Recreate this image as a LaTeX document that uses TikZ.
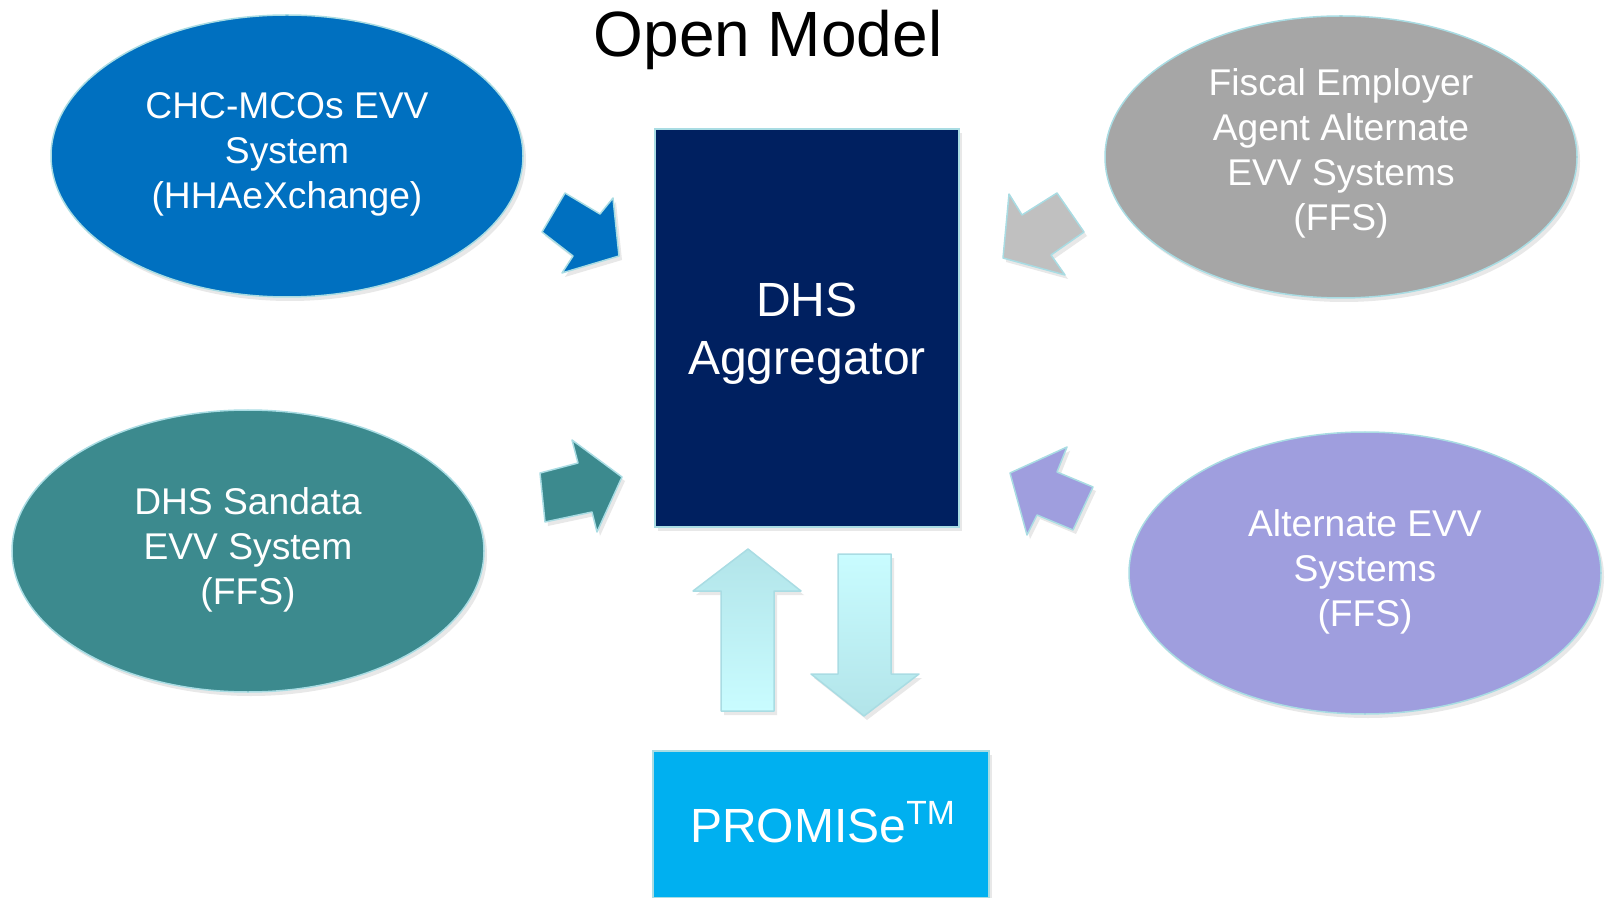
\documentclass[tikz,border=0pt]{standalone}
\usepackage{fontspec}
\setmainfont{Liberation Sans}
\usepackage{xcolor}
\usetikzlibrary{shapes.geometric,shadows}

\definecolor{chcblue}{HTML}{0070C0}
\definecolor{feagray}{HTML}{A6A6A6}
\definecolor{feaarrow}{HTML}{C0C0C0}
\definecolor{sandteal}{HTML}{3C8A8E}
\definecolor{altpurple}{HTML}{9F9EDE}
\definecolor{dhsnavy}{HTML}{002060}
\definecolor{promisecyan}{HTML}{00B0F0}
\definecolor{rimcyan}{HTML}{A9DCE3}
\definecolor{flowtop}{HTML}{B2E4E9}
\definecolor{flowbot}{HTML}{C9FCFF}

\tikzset{
  softshadow/.style={drop shadow={opacity=0.18, shadow xshift=1.5pt, shadow yshift=-2pt}},
  oval/.style={ellipse, draw=rimcyan, line width=0.75pt, inner sep=0pt,
    minimum width=236pt, minimum height=141pt, softshadow},
  ovaltext/.style={text=white, align=center, inner sep=0pt, font=\fontsize{18.6}{22.5}\selectfont},
  block/.style={rectangle, draw=rimcyan, line width=0.75pt, inner sep=0pt, softshadow},
  blocktext/.style={text=white, align=center, inner sep=0pt, font=\fontsize{24}{29}\selectfont},
  bigarrow/.style={draw=rimcyan, line width=0.75pt, line join=round, softshadow}
}

\begin{document}
\begin{tikzpicture}[x=0.5pt, y=-0.5pt]
        \useasboundingbox (0, 0) rectangle (1606, 898);
        \node (title) at (768, 57) [anchor=base, font=\fontsize{32}{38}\selectfont] {Open Model};
        % systems round the aggregator
        \node (chc) at (287, 156) [oval, fill=chcblue] {};
        \node (fea) at (1341, 157) [oval, fill=feagray] {};
        \node (sandata) at (248, 551) [oval, fill=sandteal] {};
        \node (alt) at (1365, 573) [oval, fill=altpurple] {};
        \node (chctext) at ([yshift=1pt]chc.center) [ovaltext] {CHC-MCOs EVV\\System\\(HHAeXchange)};
        \node (featext) at ([yshift=2pt]fea.center) [ovaltext] {Fiscal Employer\\Agent Alternate\\EVV Systems\\(FFS)};
        \node (sandatatext) at ([yshift=0.5pt]sandata.center) [ovaltext] {DHS Sandata\\EVV System\\(FFS)};
        \node (alttext) at ([yshift=0.5pt]alt.center) [ovaltext] {Alternate EVV\\Systems\\(FFS)};
        \node (agg) at (807, 328) [block, fill=dhsnavy, minimum width=152pt, minimum height=199pt] {};
        \node (aggtext) at ([yshift=-3pt]agg.center) [blocktext] {DHS\\Aggregator};
        \node (promise) at (821, 824.5) [block, fill=promisecyan, minimum width=168pt, minimum height=73.5pt] {};
        \node (promisetext) at ([xshift=1pt, yshift=1pt]promise.center) [blocktext] {PROMISe\textsuperscript{TM}};
        % block arrows
        \draw [bigarrow, fill=chcblue] (542, 232) -- (565, 193) -- (600, 214) -- (613, 198) -- (619, 256) -- (562, 273) -- (573, 256) -- cycle;
        \draw [bigarrow, fill=feaarrow] (1009, 194) -- (1022, 215) -- (1057, 193) -- (1084, 232) -- (1051, 255) -- (1065, 275) -- (1003, 258) -- cycle;
        \draw [bigarrow, fill=sandteal] (540, 473) -- (578, 463) -- (572, 440) -- (622, 477) -- (597, 532) -- (592, 512) -- (545, 522) -- cycle;
        \draw [bigarrow, fill=altpurple] (1067, 447) -- (1057, 472) -- (1093, 487) -- (1073, 530) -- (1037, 515) -- (1027, 535) -- (1010, 473) -- cycle;
        \draw [bigarrow, top color=flowtop, bottom color=flowbot] (748, 549) -- (801, 591) -- (774, 591) -- (774, 711) -- (721, 711) -- (721, 591) -- (693, 591) -- cycle;
        \draw [bigarrow, top color=flowbot, bottom color=flowtop] (838, 554) -- (891, 554) -- (891, 674) -- (919, 674) -- (864, 716) -- (811, 674) -- (838, 674) -- cycle;
    \end{tikzpicture}
\end{document}
